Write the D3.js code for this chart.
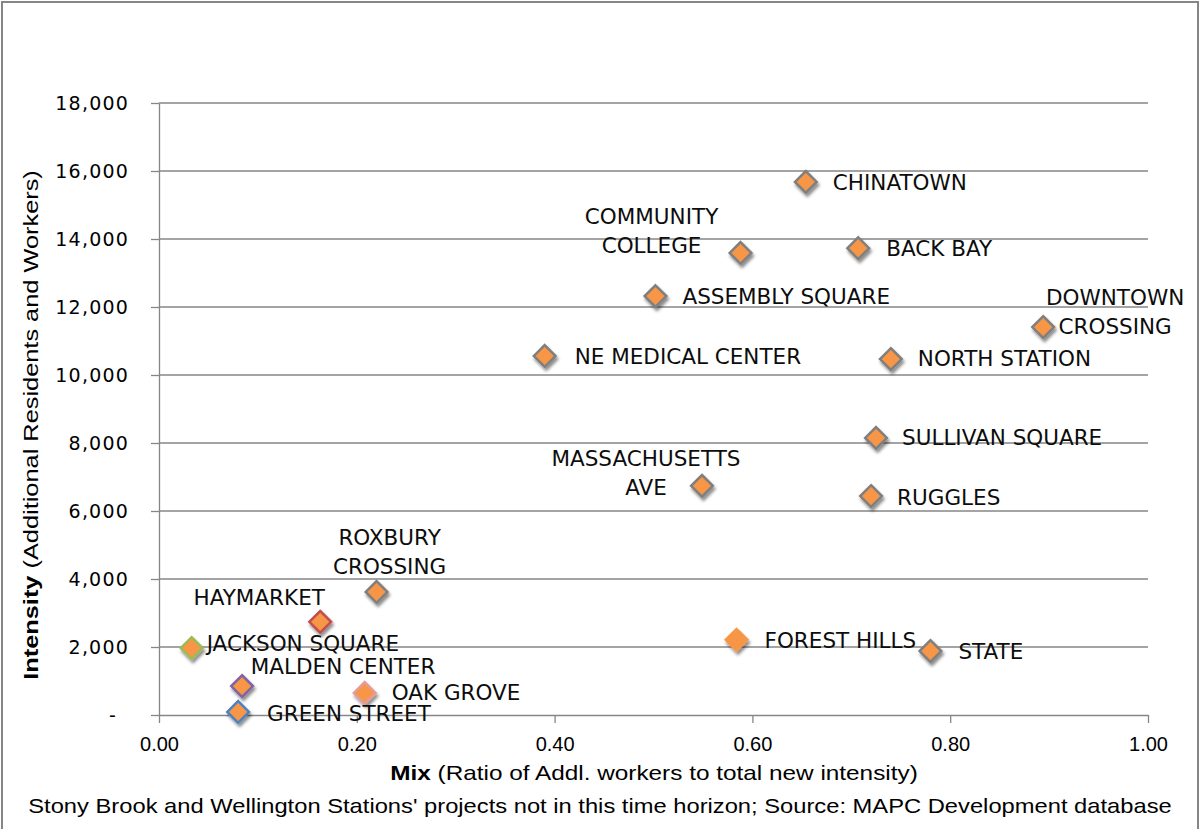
<!DOCTYPE html>
<html>
<head>
<meta charset="utf-8">
<script src="https://cdn.jsdelivr.net/npm/d3@7"></script>
<style>
  body { margin: 0; background: #fff; }
  svg { display: block; }
</style>
</head>
<body>
<svg id="chart" width="1201" height="829"></svg>
<script>
// station data
var stations = ["CHINATOWN", "COMMUNITY COLLEGE", "BACK BAY", "ASSEMBLY SQUARE", "DOWNTOWN CROSSING",
  "NE MEDICAL CENTER", "NORTH STATION", "SULLIVAN SQUARE", "MASSACHUSETTS AVE", "RUGGLES",
  "ROXBURY CROSSING", "HAYMARKET", "JACKSON SQUARE", "MALDEN CENTER", "OAK GROVE",
  "GREEN STREET", "FOREST HILLS", "STATE"];
var mix = [0.654, 0.588, 0.707, 0.502, 0.894, 0.390, 0.740, 0.725, 0.549, 0.720,
  0.220, 0.163, 0.033, 0.084, 0.208, 0.080, 0.584, 0.780];
var intensity = [15680, 13590, 13730, 12320, 11410, 10560, 10470, 8150, 6740, 6440,
  3620, 2740, 1970, 850, 650, 90, 2210, 1880];
// label lines (Excel wrapped some of them)
var labelLines = [["CHINATOWN"], ["COMMUNITY", "COLLEGE"], ["BACK BAY"], ["ASSEMBLY SQUARE"], ["DOWNTOWN", "CROSSING"],
  ["NE MEDICAL CENTER"], ["NORTH STATION"], ["SULLIVAN SQUARE"], ["MASSACHUSETTS", "AVE"], ["RUGGLES"],
  ["ROXBURY", "CROSSING"], ["HAYMARKET"], ["JACKSON SQUARE"], ["MALDEN CENTER"], ["OAK GROVE"],
  ["GREEN STREET"], ["FOREST HILLS"], ["STATE"]];

var xTicks = [0, 0.2, 0.4, 0.6, 0.8, 1.0];
var yTicks = [0, 2000, 4000, 6000, 8000, 10000, 12000, 14000, 16000, 18000];

// where each label sits relative to its marker (manually dragged in the original)
var labelPos = {
  "CHINATOWN": {dx: 27, dy: 0, anchor: "start"},
  "COMMUNITY COLLEGE": {dx: -89, dy: -37, anchor: "middle"},
  "BACK BAY": {dx: 28, dy: 0, anchor: "start"},
  "ASSEMBLY SQUARE": {dx: 27, dy: 0, anchor: "start"},
  "DOWNTOWN CROSSING": {dx: 72, dy: -30, anchor: "middle"},
  "NE MEDICAL CENTER": {dx: 30, dy: 0, anchor: "start"},
  "NORTH STATION": {dx: 27, dy: -1, anchor: "start"},
  "SULLIVAN SQUARE": {dx: 26, dy: -1, anchor: "start"},
  "MASSACHUSETTS AVE": {dx: -56, dy: -28, anchor: "middle"},
  "RUGGLES": {dx: 26, dy: 1, anchor: "start"},
  "ROXBURY CROSSING": {dx: 13, dy: -55, anchor: "middle"},
  "HAYMARKET": {dx: -61, dy: -25, anchor: "middle"},
  "JACKSON SQUARE": {dx: 15, dy: -5, anchor: "start"},
  "MALDEN CENTER": {dx: 101, dy: -20, anchor: "middle"},
  "OAK GROVE": {dx: 27, dy: -1, anchor: "start"},
  "GREEN STREET": {dx: 29, dy: 1, anchor: "start"},
  "FOREST HILLS": {dx: 28, dy: 0, anchor: "start"},
  "STATE": {dx: 28, dy: 0, anchor: "start"}
};
var outline = {
  "HAYMARKET": "#c0504d",
  "JACKSON SQUARE": "#9bbb59",
  "MALDEN CENTER": "#8064a2",
  "GREEN STREET": "#4f81bd",
  "OAK GROVE": "#e59a94",
  "FOREST HILLS": "#f79646"
};

var svg = d3.select("#chart");
var gray = "#868686";

var x = d3.scaleLinear().domain([0, 1]).range([159, 1148]);
var y = d3.scaleLinear().domain([0, 18000]).range([715, 103]);

// chart border
svg.append("rect")
  .attr("x", 2).attr("y", 2).attr("width", 1196).attr("height", 840)
  .attr("fill", "none").attr("stroke", gray).attr("stroke-width", 2);

// shadow for markers
var defs = svg.append("defs");
defs.append("filter").attr("id", "shadow")
  .attr("x", "-50%").attr("y", "-50%").attr("width", "200%").attr("height", "200%")
  .append("feDropShadow")
  .attr("dx", 1.5).attr("dy", 3).attr("stdDeviation", 1.8)
  .attr("flood-color", "#000").attr("flood-opacity", 0.45);

// horizontal gridlines
svg.append("g").selectAll("line")
  .data(yTicks.filter(function(d) { return d > 0; }))
  .enter().append("line")
  .attr("x1", x(0)).attr("x2", x(1))
  .attr("y1", function(d) { return y(d); })
  .attr("y2", function(d) { return y(d); })
  .attr("stroke", gray).attr("stroke-width", 1.3);

// y axis
var yAxis = svg.append("g")
  .attr("transform", "translate(" + x(0) + ",0)")
  .call(d3.axisLeft(y).tickValues(yTicks).tickSize(8).tickSizeOuter(0).tickPadding(22)
    .tickFormat(function(d) { return d === 0 ? "-" : d3.format(",")(d); }));
yAxis.select(".domain").attr("stroke", gray).attr("stroke-width", 1.3);
yAxis.selectAll(".tick line").attr("stroke", gray).attr("stroke-width", 1.3);
yAxis.selectAll(".tick text")
  .attr("font-family", "'DejaVu Sans', sans-serif")
  .attr("font-size", 19)
  .attr("letter-spacing", 1.2)
  .attr("fill", "#000")
  .attr("dx", function(d) { return d === 0 ? -12 : 0; });

// x axis
var xAxis = svg.append("g")
  .attr("transform", "translate(0," + y(0) + ")")
  .call(d3.axisBottom(x).tickValues(xTicks).tickSize(8).tickSizeOuter(0).tickPadding(14)
    .tickFormat(d3.format(".2f")));
xAxis.select(".domain").attr("stroke", gray).attr("stroke-width", 1.3);
xAxis.selectAll(".tick line").attr("stroke", gray).attr("stroke-width", 1.3);
xAxis.selectAll(".tick text")
  .attr("font-family", "'Liberation Sans', Arial, sans-serif")
  .attr("font-size", 20)
  .attr("fill", "#000");

// markers
var pts = stations.map(function(s, i) { return {name: s, mix: mix[i], val: intensity[i], lines: labelLines[i]}; });
var diamond = d3.symbol().type(d3.symbolDiamond2).size(300);

svg.append("g").selectAll("path")
  .data(pts)
  .enter().append("path")
  .attr("d", diamond)
  .attr("transform", function(d) { return "translate(" + x(d.mix) + "," + y(d.val) + ")"; })
  .attr("fill", "#f79646")
  .attr("stroke", function(d) { return outline[d.name] || "#7f7f7f"; })
  .attr("stroke-width", 2.5)
  .attr("filter", "url(#shadow)");

// data labels
var labels = svg.append("g").selectAll("text")
  .data(pts)
  .enter().append("text")
  .attr("font-family", "'DejaVu Sans', sans-serif")
  .attr("font-size", 21.5)
  .attr("fill", "#0d0d0d")
  .attr("text-anchor", function(d) { return labelPos[d.name].anchor; })
  .attr("x", function(d) { return x(d.mix) + labelPos[d.name].dx; })
  .attr("y", function(d) { return y(d.val) + labelPos[d.name].dy; });
labels.selectAll("tspan")
  .data(function(d) { return d.lines.map(function(l) { return {line: l, parent: d}; }); })
  .enter().append("tspan")
  .attr("x", function(t) { return x(t.parent.mix) + labelPos[t.parent.name].dx; })
  .attr("dy", function(t, i) { return i === 0 ? "0.36em" : 29; })
  .text(function(t) { return t.line; });

// squeeze a text to a given width, like the condensed font used by Excel
function fitText(sel, cx, cy, w, rot) {
  var bw = sel.node().getBBox().width;
  sel.attr("transform", "translate(" + cx + "," + cy + ")" + (rot ? " rotate(" + rot + ")" : "") + " scale(" + (w / bw) + ",1)");
}

// axis titles
var xt = svg.append("text")
  .attr("text-anchor", "middle")
  .attr("font-family", "'Liberation Sans', Arial, sans-serif")
  .attr("font-size", 20).attr("fill", "#000");
xt.append("tspan").attr("font-weight", "bold").text("Mix");
xt.append("tspan").text(" (Ratio of Addl. workers to total new intensity)");
fitText(xt, 654, 780, 528, 0);

var yt = svg.append("text")
  .attr("text-anchor", "middle")
  .attr("font-family", "'Liberation Sans', Arial, sans-serif")
  .attr("font-size", 20).attr("fill", "#000");
yt.append("tspan").attr("font-weight", "bold").text("Intensity");
yt.append("tspan").text(" (Additional Residents and Workers)");
fitText(yt, 38, 425, 510, -90);

// footnote
var ft = svg.append("text")
  .attr("text-anchor", "middle")
  .attr("font-family", "'Liberation Sans', Arial, sans-serif")
  .attr("font-size", 20).attr("fill", "#000")
  .text("Stony Brook and Wellington Stations' projects not in this time horizon; Source: MAPC Development database");
fitText(ft, 600, 813, 1144, 0);
</script>
</body>
</html>
